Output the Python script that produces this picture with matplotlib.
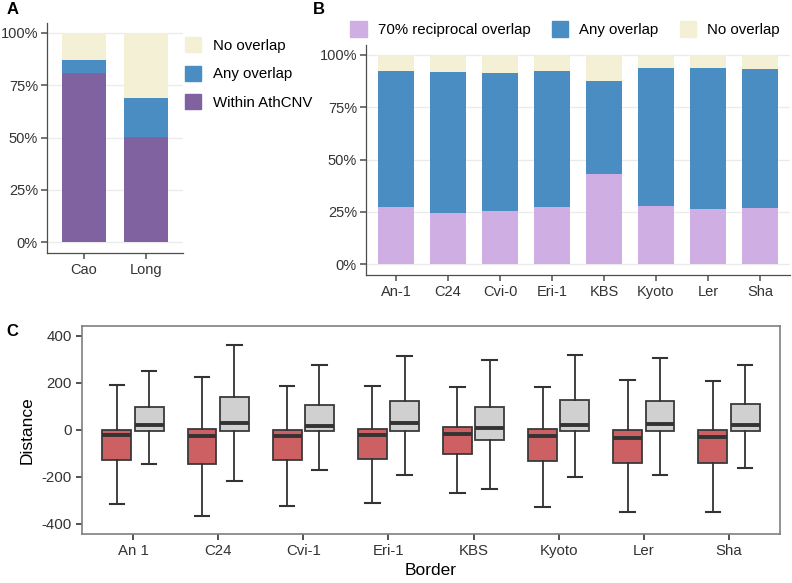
import matplotlib
matplotlib.use("Agg")
import matplotlib.pyplot as plt
from matplotlib.patches import Patch

plt.rcParams["font.family"] = ["Liberation Sans", "DejaVu Sans"]
plt.rcParams["axes.unicode_minus"] = False

# ---- panel A: stacked proportions ----
a_groups = ["Cao", "Long"]
a_within = [0.808, 0.501]
a_any = [0.062, 0.190]
a_none = [0.130, 0.309]

# ---- panel B: stacked proportions per accession ----
b_groups = ["An-1", "C24", "Cvi-0", "Eri-1", "KBS", "Kyoto", "Ler", "Sha"]
b_recip = [0.274, 0.242, 0.255, 0.272, 0.430, 0.280, 0.264, 0.266]
b_any = [0.651, 0.678, 0.661, 0.653, 0.446, 0.656, 0.674, 0.667]
b_none = [0.075, 0.080, 0.084, 0.075, 0.124, 0.064, 0.062, 0.067]

# ---- panel C: box stats (whislo, q1, med, q3, whishi) ----
c_groups = ["An 1", "C24", "Cvi-1", "Eri-1", "KBS", "Kyoto", "Ler", "Sha"]
c_red = [(-314, -127, -23, 0, 189), (-367, -147, -25, 3, 223), (-322, -130, -25, 1, 188),
         (-312, -126, -23, 3, 187), (-270, -103, -16, 14, 182), (-329, -131, -27, 3, 184),
         (-348, -141, -34, 1, 212), (-351, -141, -30, 0, 209)]
c_gray = [(-146, -3, 20, 99, 252), (-218, -3, 31, 141, 360), (-171, -4, 18, 107, 277),
          (-194, -3, 28, 124, 315), (-252, -41, 6, 99, 298), (-201, -3, 20, 127, 319),
          (-192, -3, 25, 123, 307), (-164, -3, 20, 109, 278)]

PURPLE = "#8062A0"
BLUE = "#4A8DC3"
CREAM = "#F4F0D6"
LAVENDER = "#CFAEE3"
RED = "#CD6062"
GRAY = "#D0D0D0"
AXC = "#4D4D4D"

fig = plt.figure(figsize=(7.92, 5.83), dpi=100)


def gg_axes(ax):
    for s in ["top", "right"]:
        ax.spines[s].set_visible(False)
    for s in ["left", "bottom"]:
        ax.spines[s].set_color(AXC)
        ax.spines[s].set_linewidth(0.9)
    ax.yaxis.grid(True, color="#EBEBEB", lw=1.0)
    ax.set_axisbelow(True)
    ax.tick_params(colors=AXC, labelcolor="#333333", labelsize=10.5, length=4, width=1.1)
    ax.tick_params(axis="y", pad=2.5)
    ax.set_ylim(-0.05, 1.05)
    ax.set_yticks([0, 0.25, 0.5, 0.75, 1.0])
    ax.set_yticklabels(["0%", "25%", "50%", "75%", "100%"])


# ---------- A ----------
axA = fig.add_axes([47 / 792, 1 - 252.5 / 583, 136 / 792, 230 / 583])
gg_axes(axA)
xa = range(1, len(a_groups) + 1)
bot2 = [w + a for w, a in zip(a_within, a_any)]
axA.bar(xa, a_within, width=0.7, color=PURPLE)
axA.bar(xa, a_any, bottom=a_within, width=0.7, color=BLUE)
axA.bar(xa, a_none, bottom=bot2, width=0.7, color=CREAM)
axA.set_xlim(0.4, 2.6)
axA.set_xticks(list(xa)); axA.set_xticklabels(a_groups)
hA = [Patch(color=CREAM, label="No overlap"), Patch(color=BLUE, label="Any overlap"),
      Patch(color=PURPLE, label="Within AthCNV")]
axA.legend(handles=hA, loc="upper left", bbox_to_anchor=(0.97, 0.963), frameon=False,
           fontsize=10.8, handlelength=1.1, handleheight=1.2, labelspacing=0.85,
           handletextpad=0.75, borderaxespad=0)
fig.text(7 / 792, 1 - 10 / 583, "A", fontsize=12, fontweight="bold", va="center")

# ---------- B ----------
axB = fig.add_axes([366 / 792, 1 - 274.5 / 583, 424 / 792, 230 / 583])
gg_axes(axB)
xb = range(1, len(b_groups) + 1)
botb = [r + a for r, a in zip(b_recip, b_any)]
axB.bar(xb, b_recip, width=0.7, color=LAVENDER)
axB.bar(xb, b_any, bottom=b_recip, width=0.7, color=BLUE)
axB.bar(xb, b_none, bottom=botb, width=0.7, color=CREAM)
axB.set_xlim(0.42, 8.58)
axB.set_xticks(list(xb)); axB.set_xticklabels(b_groups)
hB = [Patch(color=LAVENDER, label="70% reciprocal overlap"), Patch(color=BLUE, label="Any overlap"),
      Patch(color=CREAM, label="No overlap")]
fig.legend(handles=hB, loc="center", bbox_to_anchor=(565 / 792, 1 - 29 / 583), ncol=3,
           frameon=False, fontsize=10.8, handlelength=1.1, handleheight=1.2,
           handletextpad=0.75, columnspacing=1.4)
fig.text(313 / 792, 1 - 10 / 583, "B", fontsize=12, fontweight="bold", va="center")

# ---------- C ----------
axC = fig.add_axes([82 / 792, 1 - 534 / 583, 698 / 792, 208 / 583])


def stats(rows, label):
    return [dict(whislo=r[0], q1=r[1], med=r[2], q3=r[3], whishi=r[4], label=label, fliers=[])
            for r in rows]


xc = list(range(1, len(c_groups) + 1))
for rows, off, col in [(c_red, -0.19, RED), (c_gray, 0.19, GRAY)]:
    axC.bxp(stats(rows, ""), positions=[x + off for x in xc], widths=0.34, capwidths=0.17,
            patch_artist=True, showfliers=False, manage_ticks=False,
            boxprops=dict(facecolor=col, edgecolor="#3A3A3A", lw=1.3),
            whiskerprops=dict(color="#333333", lw=1.3),
            capprops=dict(color="#333333", lw=1.5),
            medianprops=dict(color="#333333", lw=2.8))
axC.set_xlim(0.4, 8.6)
axC.set_ylim(-443, 442)
axC.set_xticks(xc); axC.set_xticklabels(c_groups)
axC.set_yticks([-400, -200, 0, 200, 400])
for s in axC.spines.values():
    s.set_color("#7F7F7F"); s.set_linewidth(1.2)
axC.tick_params(colors="#333333", labelsize=10.8, length=4, width=1.2)
axC.set_xlabel("Border", fontsize=12.5, labelpad=3)
axC.set_ylabel("Distance", fontsize=12.5, labelpad=5)
fig.text(6 / 792, 1 - 332 / 583, "C", fontsize=12, fontweight="bold", va="center")

plt.savefig("out.png", dpi=100)
